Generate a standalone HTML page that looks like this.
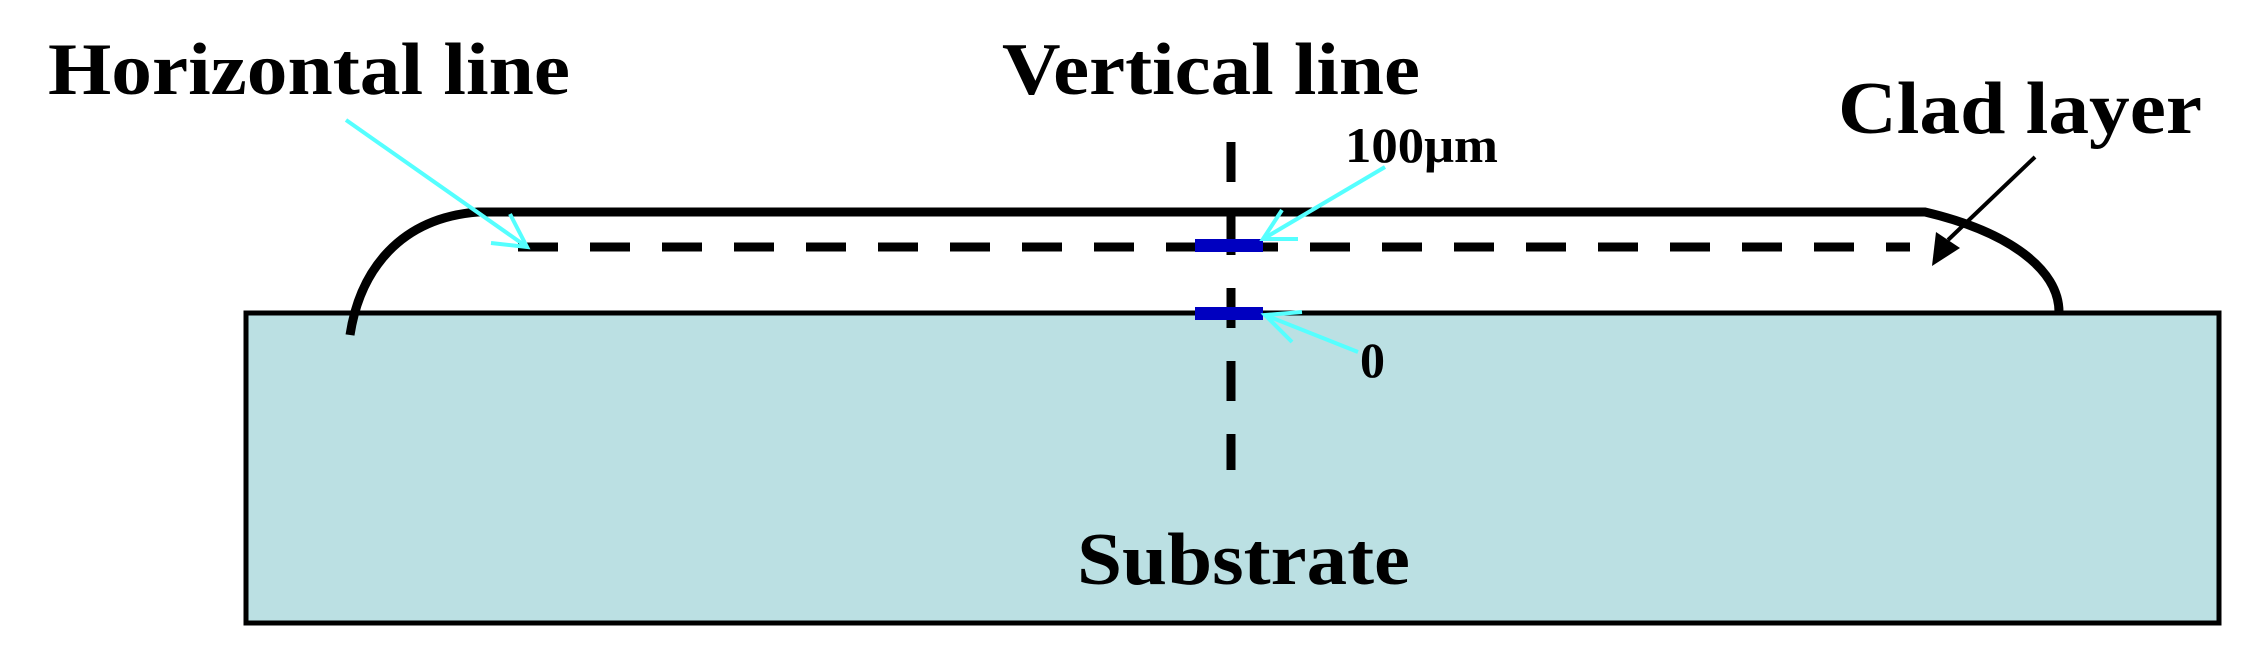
<!DOCTYPE html>
<html><head><meta charset="utf-8"><style>html,body{margin:0;padding:0;background:#fff}svg{display:block}</style></head>
<body>
<svg width="2261" height="670" viewBox="0 0 2261 670" xmlns="http://www.w3.org/2000/svg">
<rect x="246" y="313" width="1973" height="310" fill="#bbe0e3" stroke="#000" stroke-width="5"/>
<path d="M350 335 C 360 270 400 218 478 212 L 1925 212 C 2010 232 2059 270 2059 312" fill="none" stroke="#000" stroke-width="9"/>
<line x1="518" y1="247" x2="1910" y2="247" stroke="#000" stroke-width="9" stroke-dasharray="40 32"/>
<line x1="1231" y1="142" x2="1231" y2="470" stroke="#000" stroke-width="9" stroke-dasharray="40 33"/>
<rect x="1195" y="239" width="68" height="13" fill="#0000c0"/>
<rect x="1195" y="307" width="68" height="13" fill="#0000c0"/>
<g stroke="#5ff" stroke-width="4" fill="none">
<line x1="346" y1="120" x2="527" y2="247"/><polyline points="510,214 527,247 491,243"/>
<line x1="1385" y1="167" x2="1263" y2="239"/><polyline points="1282,210 1263,239 1298,239"/>
<line x1="1358" y1="352" x2="1265" y2="315"/><polyline points="1302,312 1265,315 1292,342"/>
</g>
<line x1="2035" y1="157" x2="1948" y2="240" stroke="#000" stroke-width="4"/>
<polygon points="1932,266 1936,232 1960,248" fill="#000"/>
<g font-family="'Liberation Serif',serif" font-weight="bold" fill="#000">
<text x="48" y="94" font-size="74" textLength="522" lengthAdjust="spacingAndGlyphs">Horizontal line</text>
<text x="1002" y="94" font-size="74" textLength="418" lengthAdjust="spacingAndGlyphs">Vertical line</text>
<text x="1838" y="133" font-size="74" textLength="364" lengthAdjust="spacingAndGlyphs">Clad layer</text>
<text x="1077" y="584" font-size="74" textLength="333" lengthAdjust="spacingAndGlyphs">Substrate</text>
<text x="1345" y="162" font-size="50" textLength="153" lengthAdjust="spacingAndGlyphs">100μm</text>
<text x="1360" y="377" font-size="50">0</text>
</g>
</svg>
</body></html>
